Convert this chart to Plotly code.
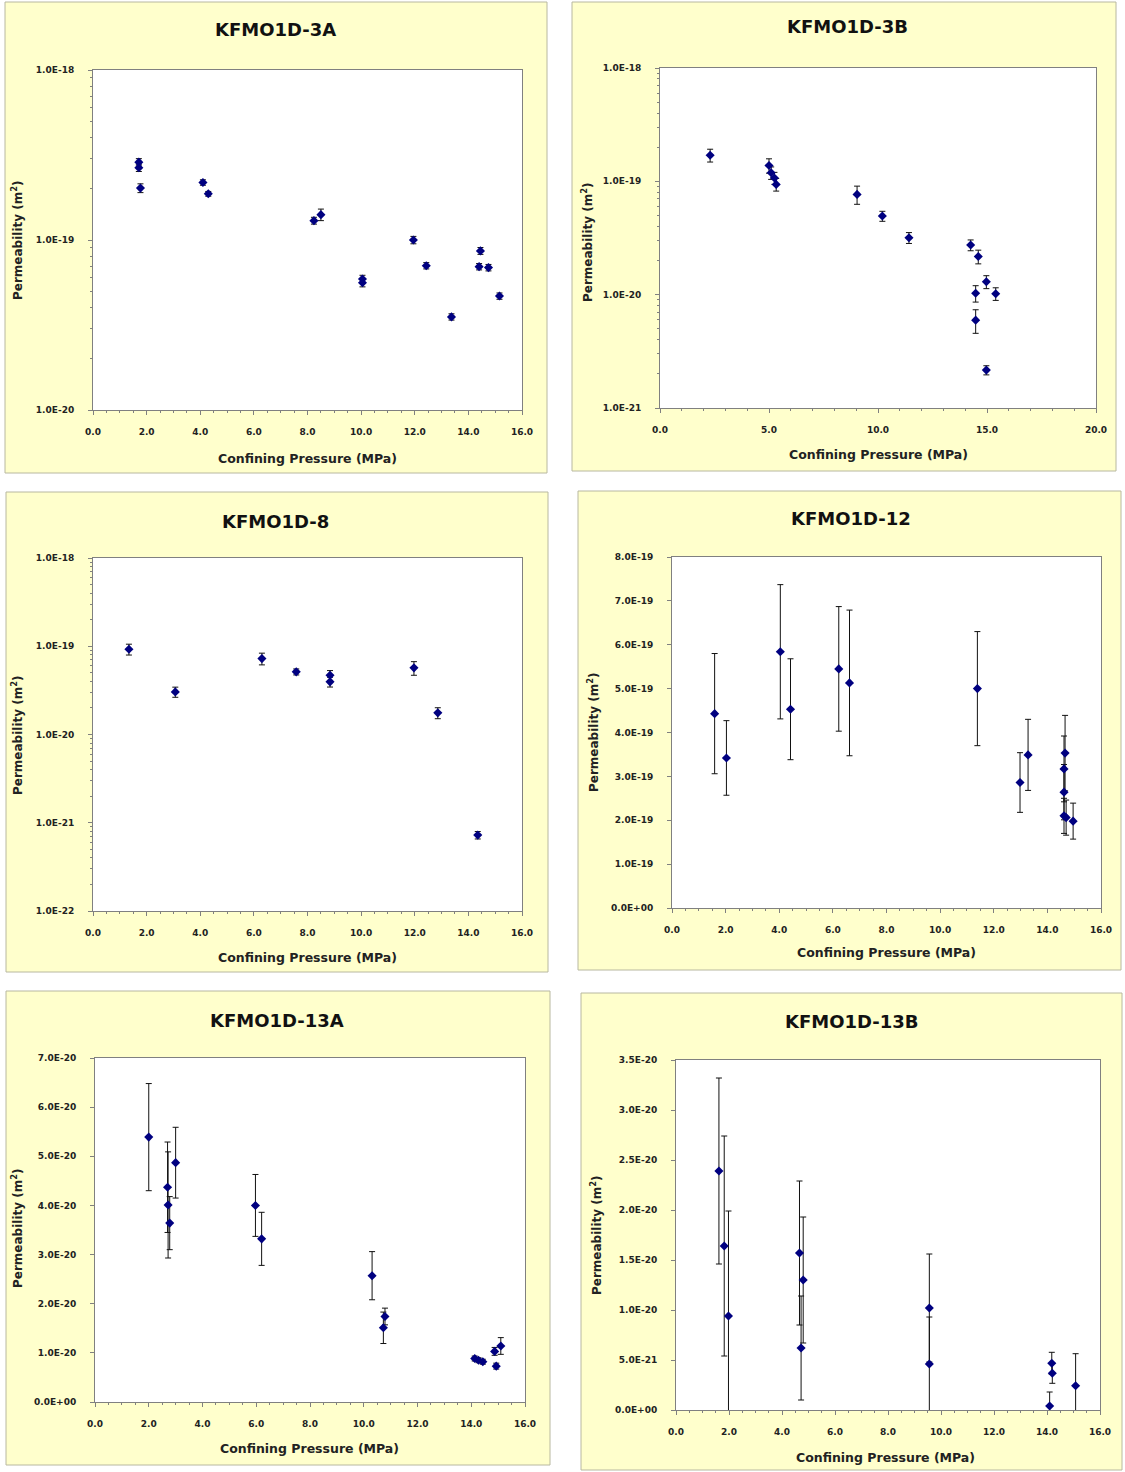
import plotly.graph_objects as go

W, H = 1125, 1472

# ---------------- data ----------------
# KFMO1D-3A (log scale)
p3a_x = [1.71, 1.71, 1.77, 4.10, 4.30, 8.24, 8.50, 10.05, 10.05, 11.95, 12.43, 13.37, 14.45, 14.40, 14.75, 15.16]
p3a_k = [2.87e-19, 2.66e-19, 2.02e-19, 2.18e-19, 1.87e-19, 1.30e-19, 1.41e-19, 5.6e-20, 5.9e-20,
         1.00e-19, 7.06e-20, 3.53e-20, 8.63e-20, 6.97e-20, 6.88e-20, 4.68e-20]
p3a_e = [1.4e-20, 1.3e-20, 1.2e-20, 0.8e-20, 0.6e-20, 0.6e-20, 1.1e-20, 0.3e-20, 0.3e-20,
         0.5e-20, 0.3e-20, 0.15e-20, 0.4e-20, 0.3e-20, 0.3e-20, 0.2e-20]

# KFMO1D-3B (log scale)
p3b_x = [2.30, 5.00, 5.10, 5.25, 5.33, 9.04, 10.20, 11.42, 14.25, 14.60, 14.48, 14.48, 14.97, 15.40, 14.97]
p3b_k = [1.70e-19, 1.38e-19, 1.19e-19, 1.07e-19, 9.4e-20, 7.67e-20, 4.94e-20, 3.18e-20, 2.74e-20,
         2.17e-20, 1.03e-20, 5.96e-21, 1.30e-20, 1.02e-20, 2.16e-21]
p3b_e = [2.2e-20, 2.0e-20, 1.5e-20, 1.3e-20, 1.2e-20, 1.4e-20, 0.5e-20, 0.35e-20, 0.3e-20,
         0.3e-20, 0.17e-20, 1.4e-21, 0.17e-20, 0.13e-20, 0.2e-21]

# KFMO1D-8 (log scale)
p8_x = [1.34, 3.07, 6.30, 7.58, 8.84, 8.84, 11.97, 12.86, 14.35]
p8_k = [9.25e-20, 3.04e-20, 7.25e-20, 5.13e-20, 4.7e-20, 3.95e-20, 5.69e-20, 1.76e-20, 7.25e-22]
p8_e = [1.3e-20, 0.4e-20, 1.1e-20, 0.4e-20, 0.6e-20, 0.5e-20, 1.0e-20, 0.25e-20, 0.7e-22]

# KFMO1D-12 (linear)
p12_x = [1.59, 2.03, 4.04, 4.42, 6.22, 6.62, 11.39, 12.98, 13.28, 14.66, 14.62, 14.62, 14.62, 14.70, 14.96]
p12_k = [4.43e-19, 3.42e-19, 5.84e-19, 4.53e-19, 5.45e-19, 5.13e-19, 5.00e-19, 2.86e-19, 3.49e-19,
         3.53e-19, 3.17e-19, 2.64e-19, 2.10e-19, 2.06e-19, 1.98e-19]
p12_e = [1.37e-19, 0.85e-19, 1.53e-19, 1.15e-19, 1.42e-19, 1.66e-19, 1.30e-19, 0.68e-19, 0.81e-19,
         0.86e-19, 0.75e-19, 0.63e-19, 0.40e-19, 0.40e-19, 0.41e-19]

# KFMO1D-13A (linear)
p13a_x = [2.00, 2.70, 2.72, 2.78, 3.00, 5.97, 6.20, 10.31, 10.73, 10.79, 14.13, 14.27, 14.43, 14.87, 14.93, 15.10]
p13a_k = [5.39e-20, 4.37e-20, 4.01e-20, 3.64e-20, 4.87e-20, 4.00e-20, 3.32e-20, 2.57e-20, 1.51e-20,
          1.74e-20, 0.885e-20, 0.85e-20, 0.82e-20, 1.03e-20, 0.73e-20, 1.14e-20]
p13a_e = [1.09e-20, 0.92e-20, 1.08e-20, 0.54e-20, 0.72e-20, 0.63e-20, 0.54e-20, 0.49e-20, 0.32e-20,
          0.17e-20, 0.05e-20, 0.05e-20, 0.05e-20, 0.08e-20, 0.06e-20, 0.17e-20]

# KFMO1D-13B (linear)
p13b_x = [1.62, 1.82, 1.98, 4.66, 4.80, 4.72, 9.56, 9.56, 14.10, 14.18, 14.20, 15.08]
p13b_k = [2.39e-20, 1.64e-20, 0.94e-20, 1.57e-20, 1.30e-20, 0.62e-20, 1.02e-20, 0.46e-20,
          0.04e-20, 0.467e-20, 0.367e-20, 0.243e-20]
p13b_e = [0.93e-20, 1.10e-20, 1.05e-20, 0.72e-20, 0.63e-20, 0.52e-20, 0.54e-20, 0.47e-20,
          0.14e-20, 0.11e-20, 0.10e-20, 0.32e-20]

# tick labels
log3_vals = [1e-20, 1e-19, 1e-18]
log3_text = ["1.0E-20", "1.0E-19", "1.0E-18"]
log3b_vals = [1e-21, 1e-20, 1e-19, 1e-18]
log3b_text = ["1.0E-21", "1.0E-20", "1.0E-19", "1.0E-18"]
log8_vals = [1e-22, 1e-21, 1e-20, 1e-19, 1e-18]
log8_text = ["1.0E-22", "1.0E-21", "1.0E-20", "1.0E-19", "1.0E-18"]
lin12_vals = [0, 1e-19, 2e-19, 3e-19, 4e-19, 5e-19, 6e-19, 7e-19, 8e-19]
lin12_text = ["0.0E+00", "1.0E-19", "2.0E-19", "3.0E-19", "4.0E-19", "5.0E-19", "6.0E-19", "7.0E-19", "8.0E-19"]
lin13a_vals = [0, 1e-20, 2e-20, 3e-20, 4e-20, 5e-20, 6e-20, 7e-20]
lin13a_text = ["0.0E+00", "1.0E-20", "2.0E-20", "3.0E-20", "4.0E-20", "5.0E-20", "6.0E-20", "7.0E-20"]
lin13b_vals = [0, 5e-21, 1e-20, 1.5e-20, 2e-20, 2.5e-20, 3e-20, 3.5e-20]
lin13b_text = ["0.0E+00", "5.0E-21", "1.0E-20", "1.5E-20", "2.0E-20", "2.5E-20", "3.0E-20", "3.5E-20"]

x_title = "Confining Pressure (MPa)"
y_title = "Permeability (m<sup>2</sup>)"

# ---------------- layout helpers ----------------
def fx(v):
    return v / W

def fy(v):
    return 1 - v / H

panels = [
    dict(name="KFMO1D-3A", x=p3a_x, y=p3a_k, e=p3a_e, plot=(93, 70, 522, 410), bg=(5, 2, 547, 473),
         title=(275, 30), xt=(307, 458), yt=(17, 240), xr=[0, 16], xd=2, xm=0.5,
         log=True, yr=[-20, -18], yv=log3_vals, ytx=log3_text),
    dict(name="KFMO1D-3B", x=p3b_x, y=p3b_k, e=p3b_e, plot=(660, 68, 1096, 408), bg=(572, 2, 1116, 471),
         title=(847, 27), xt=(878, 455), yt=(587, 242), xr=[0, 20], xd=5, xm=1,
         log=True, yr=[-21, -18], yv=log3b_vals, ytx=log3b_text),
    dict(name="KFMO1D-8", x=p8_x, y=p8_k, e=p8_e, plot=(93, 558, 522, 911), bg=(6, 492, 548, 972),
         title=(275, 521), xt=(307, 957), yt=(17, 735), xr=[0, 16], xd=2, xm=0.5,
         log=True, yr=[-22, -18], yv=log8_vals, ytx=log8_text),
    dict(name="KFMO1D-12", x=p12_x, y=p12_k, e=p12_e, plot=(672, 557, 1101, 908), bg=(578, 491, 1121, 970),
         title=(851, 518), xt=(886, 953), yt=(593, 732), xr=[0, 16], xd=2, xm=0.5,
         log=False, yr=[0, 8e-19], yv=lin12_vals, ytx=lin12_text),
    dict(name="KFMO1D-13A", x=p13a_x, y=p13a_k, e=p13a_e, plot=(95, 1058, 525, 1402), bg=(6, 991, 550, 1465),
         title=(277, 1020), xt=(309, 1448), yt=(17, 1228), xr=[0, 16], xd=2, xm=0.5,
         log=False, yr=[0, 7e-20], yv=lin13a_vals, ytx=lin13a_text),
    dict(name="KFMO1D-13B", x=p13b_x, y=p13b_k, e=p13b_e, plot=(676, 1060, 1100, 1410), bg=(581, 993, 1122, 1470),
         title=(852, 1022), xt=(885, 1457), yt=(596, 1235), xr=[0, 16], xd=2, xm=0.5,
         log=False, yr=[0, 3.5e-20], yv=lin13b_vals, ytx=lin13b_text),
]

FONT = "DejaVu Sans, Verdana, sans-serif"
AXIS_COL = "#808080"
TICK_FONT = dict(family=FONT, size=9, color="#222222", weight="bold")

fig = go.Figure()
shapes = []
annotations = []
layout = {}

for i, p in enumerate(panels):
    n = i + 1
    xa = "x" if n == 1 else f"x{n}"
    ya = "y" if n == 1 else f"y{n}"
    xkey = "xaxis" if n == 1 else f"xaxis{n}"
    ykey = "yaxis" if n == 1 else f"yaxis{n}"

    x0, y0, x1, y1 = p["plot"]
    b0, c0, b1, c1 = p["bg"]

    shapes.append(dict(type="rect", xref="paper", yref="paper",
                       x0=fx(b0), x1=fx(b1), y0=fy(c1), y1=fy(c0),
                       fillcolor="#FFFFCC", line=dict(color="#B8B8A0", width=1), layer="below"))
    shapes.append(dict(type="rect", xref="paper", yref="paper",
                       x0=fx(x0), x1=fx(x1), y0=fy(y1), y1=fy(y0),
                       fillcolor="white", line=dict(width=0), layer="below"))

    fig.add_trace(go.Scatter(
        x=p["x"], y=p["y"], xaxis=xa, yaxis=ya, mode="markers",
        marker=dict(symbol="diamond", size=7, color="#000080"),
        error_y=dict(type="data", array=p["e"], visible=True, color="#111111", thickness=1, width=3),
        showlegend=False, name=p["name"],
    ))

    layout[xkey] = dict(
        domain=[fx(x0), fx(x1)], anchor=ya, range=p["xr"], dtick=p["xd"], tick0=0,
        tickformat=".1f", showgrid=False, zeroline=False, automargin=False,
        showline=True, linecolor=AXIS_COL, linewidth=1, mirror=True,
        ticks="outside", ticklen=4, tickcolor=AXIS_COL, tickfont=TICK_FONT,
        ticklabelstandoff=9,
        minor=dict(ticks="outside", ticklen=2, tickcolor=AXIS_COL, dtick=p["xm"], tick0=0, showgrid=False),
    )
    ydict = dict(
        domain=[fy(y1), fy(y0)], anchor=xa, showgrid=False, zeroline=False, automargin=False,
        showline=True, linecolor=AXIS_COL, linewidth=1, mirror=True,
        ticks="outside", ticklen=4, tickcolor=AXIS_COL, tickfont=TICK_FONT,
        tickmode="array", tickvals=p["yv"], ticktext=p["ytx"], ticklabelstandoff=12,
    )
    if p["log"]:
        ydict.update(type="log", range=p["yr"],
                     minor=dict(ticks="outside", ticklen=2, tickcolor=AXIS_COL, dtick="D1", showgrid=False))
    else:
        ydict.update(type="linear", range=p["yr"])
    layout[ykey] = ydict

    annotations.append(dict(text=f"<b>{p['name']}</b>", xref="paper", yref="paper",
                            x=fx(p["title"][0]), y=fy(p["title"][1]), xanchor="center", yanchor="middle",
                            showarrow=False, font=dict(family=FONT, size=18, color="#111111")))
    annotations.append(dict(text=f"<b>{x_title}</b>", xref="paper", yref="paper",
                            x=fx(p["xt"][0]), y=fy(p["xt"][1]), xanchor="center", yanchor="middle",
                            showarrow=False, font=dict(family=FONT, size=12.5, color="#222222")))
    annotations.append(dict(text=f"<b>{y_title}</b>", xref="paper", yref="paper",
                            x=fx(p["yt"][0]), y=fy(p["yt"][1]), xanchor="center", yanchor="middle",
                            textangle=-90, showarrow=False, font=dict(family=FONT, size=12, color="#222222")))

fig.update_layout(
    width=W, height=H, margin=dict(l=0, r=0, t=0, b=0, pad=0, autoexpand=False),
    paper_bgcolor="white", plot_bgcolor="rgba(0,0,0,0)",
    shapes=shapes, annotations=annotations, showlegend=False,
    **layout,
)

fig.write_html(
    "out.html",
    config={"displayModeBar": False},
    post_script="document.body.style.margin='0px';document.body.style.padding='0px';",
)
